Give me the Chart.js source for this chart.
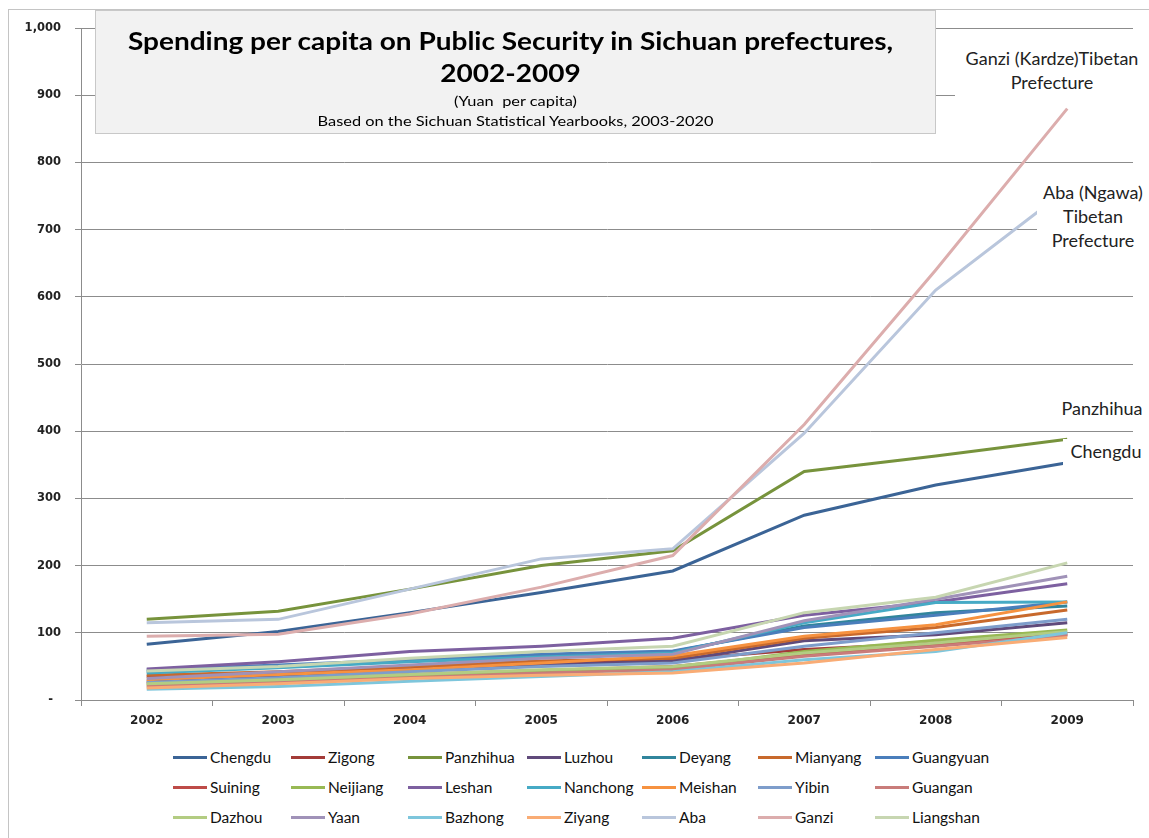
<!DOCTYPE html>
<html>
<head>
<meta charset="utf-8">
<script src="https://cdn.jsdelivr.net/npm/chart.js@4"></script>
<style>
  body { margin: 0; background: #fff; width: 1149px; height: 838px; overflow: hidden; position: relative; font-family: Lato, "Open Sans", sans-serif; }
  #frame { position: absolute; left: 8px; top: 9px; width: 1300px; height: 1000px; border: 1px solid #c4c4c4; }
  #wrap { position: absolute; left: 0; top: 0; width: 1149px; height: 740px; }
  #titleBox { position: absolute; left: 95px; top: 10px; width: 839px; height: 122px; background: #f2f2f2; border: 1px solid #c8c8c8; text-align: center; color: #000; }
  #titleBox .t1 { font-weight: bold; font-size: 25px; line-height: 32px; margin-top: 13px; margin-left: -10px; transform: scaleX(1.12); }
  #titleBox .t2 { font-size: 13px; line-height: 20px; margin-top: 3px; transform: scaleX(1.26); }
  .note { position: absolute; background: #fff; color: #222; font-size: 18px; line-height: 24px; text-align: center; padding-bottom: 4px; }
  #legend { position: absolute; left: 0; top: 742px; width: 1149px; height: 96px; }
  .item { position: absolute; height: 30px; display: flex; align-items: center; font-size: 15.5px; color: #111; }
  .item span.sw { display: inline-block; width: 34px; height: 3px; margin-right: 3px; }
</style>
</head>
<body>
<div id="frame"></div>
<div id="wrap"><canvas id="chart" width="1149" height="740"></canvas></div>

<div id="titleBox">
  <div class="t1">Spending per capita on Public Security in Sichuan prefectures,<br>2002-2009</div>
  <div class="t2">(Yuan&nbsp; per capita)<br>Based on the Sichuan Statistical Yearbooks, 2003-2020</div>
</div>

<div class="note" style="left:955px; top:46px; width:194px;">Ganzi (Kardze)Tibetan<br>Prefecture</div>
<div class="note" style="left:1037px; top:180px; width:112px;">Aba (Ngawa)<br>Tibetan<br>Prefecture</div>
<div class="note" style="left:1055px; top:396px; width:94px;">Panzhihua</div>
<div class="note" style="left:1063px; top:439px; width:86px;">Chengdu</div>

<div id="legend"></div>

<script>
// years on the x axis
const years = ["2002", "2003", "2004", "2005", "2006", "2007", "2008", "2009"];

// prefecture names, in legend order
const prefectures = ["Chengdu", "Zigong", "Panzhihua", "Luzhou", "Deyang", "Mianyang", "Guangyuan",
  "Suining", "Neijiang", "Leshan", "Nanchong", "Meishan", "Yibin", "Guangan",
  "Dazhou", "Yaan", "Bazhong", "Ziyang", "Aba", "Ganzi", "Liangshan"];

// spending per capita (yuan)
const chengdu   = [83, 102, 130, 160, 192, 275, 320, 353];
const zigong    = [35, 40, 48, 55, 60, 75, 85, 98];
const panzhihua = [120, 132, 165, 200, 222, 340, 363, 388];
const luzhou    = [28, 35, 45, 52, 58, 88, 97, 115];
const deyang    = [42, 50, 58, 65, 72, 110, 130, 140];
const mianyang  = [37, 42, 50, 58, 62, 92, 108, 134];
const guangyuan = [45, 52, 60, 68, 73, 108, 126, 146];
const suining   = [25, 30, 38, 44, 50, 68, 82, 98];
const neijiang  = [22, 28, 35, 42, 47, 72, 89, 104];
const leshan    = [46, 57, 72, 80, 92, 126, 146, 173];
const nanchong  = [40, 48, 57, 64, 70, 115, 145, 146];
const meishan   = [30, 38, 45, 55, 66, 95, 112, 146];
const yibin     = [26, 33, 42, 50, 55, 80, 100, 120];
const guangan   = [20, 26, 33, 40, 45, 65, 80, 96];
const dazhou    = [24, 30, 38, 45, 50, 70, 85, 102];
const yaan      = [32, 42, 52, 62, 68, 118, 150, 184];
const bazhong   = [16, 20, 28, 35, 42, 60, 72, 100];
const ziyang    = [18, 24, 32, 37, 40, 55, 75, 93];
const aba       = [115, 120, 165, 210, 225, 397, 610, 760];
const ganzi     = [95, 98, 128, 168, 215, 410, 640, 880];
const liangshan = [43, 50, 62, 72, 80, 130, 153, 204];

const seriesValues = [chengdu, zigong, panzhihua, luzhou, deyang, mianyang, guangyuan,
  suining, neijiang, leshan, nanchong, meishan, yibin, guangan,
  dazhou, yaan, bazhong, ziyang, aba, ganzi, liangshan];

// y axis ticks
const yTicks = [0, 100, 200, 300, 400, 500, 600, 700, 800, 900, 1000];

const colors = ["#3b6496", "#a33b38", "#77933c", "#604a7b", "#31859c", "#c8692c", "#4a7ebb",
  "#be4b48", "#98b954", "#7d60a0", "#46aac5", "#f69240", "#7e9dcb", "#c97c7a",
  "#b3cc82", "#a092b8", "#7ec6dc", "#f9ac75", "#b9c6dc", "#dcadad", "#c7d6b1"];

// later series drawn on top, like Excel
const datasets = prefectures.map((name, i) => ({
  label: name,
  data: seriesValues[i],
  borderColor: colors[i],
  backgroundColor: colors[i],
  borderWidth: 3,
  pointRadius: 0,
  tension: 0,
  fill: false,
  order: prefectures.length - i
}));

const ctx = document.getElementById("chart").getContext("2d");
new Chart(ctx, {
  type: "line",
  data: { labels: years, datasets: datasets },
  options: {
    responsive: false,
    animation: false,
    layout: { padding: { top: 28, right: 16, left: 0, bottom: 0 } },
    plugins: {
      legend: { display: false },
      title: { display: false },
      tooltip: { enabled: false }
    },
    scales: {
      x: {
        offset: true,
        grid: { offset: true, drawOnChartArea: false, drawTicks: true, tickLength: 6, color: "#8c8c8c" },
        border: { color: "#8c8c8c" },
        ticks: { padding: 8, color: "#222", font: { family: "DejaVu Sans", size: 12, weight: "bold" } },
        afterFit: (scale) => { scale.height = 40; }
      },
      y: {
        min: 0,
        max: 1000,
        afterBuildTicks: (scale) => { scale.ticks = yTicks.map(v => ({ value: v })); },
        grid: { color: "#8c8c8c", tickLength: 6 },
        border: { color: "#8c8c8c" },
        ticks: {
          padding: 14,
          color: "#222",
          font: { family: "DejaVu Sans", size: 11.5, weight: "bold" },
          callback: (v) => v === 0 ? "-  " : v.toLocaleString("en-US")
        },
        afterFit: (scale) => { scale.width = 81; }
      }
    }
  }
});

// legend, 7 columns x 3 rows
const legendDiv = document.getElementById("legend");
const colX = [173, 291, 408, 527, 642, 758, 875];
prefectures.forEach((name, i) => {
  const row = Math.floor(i / 7), col = i % 7;
  const item = document.createElement("div");
  item.className = "item";
  item.style.left = colX[col] + "px";
  item.style.top = (row * 30) + "px";
  item.innerHTML = `<span class="sw" style="background:${colors[i]}"></span>${name}`;
  legendDiv.appendChild(item);
});
</script>
</body>
</html>
